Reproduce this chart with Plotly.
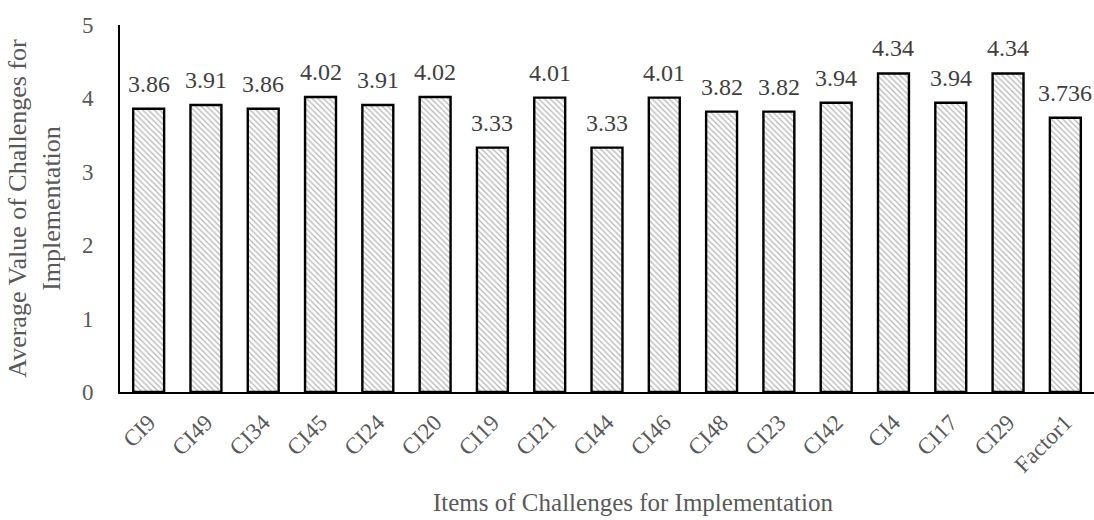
import plotly.graph_objects as go

# Challenge items and their mean scores
items = ["CI9", "CI49", "CI34", "CI45", "CI24", "CI20", "CI19", "CI21", "CI44",
         "CI46", "CI48", "CI23", "CI42", "CI4", "CI17", "CI29", "Factor1"]
means = [3.86, 3.91, 3.86, 4.02, 3.91, 4.02, 3.33, 4.01, 3.33,
         4.01, 3.82, 3.82, 3.94, 4.34, 3.94, 4.34, 3.736]
labels = ["3.86", "3.91", "3.86", "4.02", "3.91", "4.02", "3.33", "4.01", "3.33",
          "4.01", "3.82", "3.82", "3.94", "4.34", "3.94", "4.34", "3.736"]

FONT = "Liberation Serif, Times New Roman, serif"
GREY = "#595959"

fig = go.Figure(go.Bar(
    x=items,
    y=means,
    width=0.54,
    marker=dict(
        color="white",
        line=dict(color="black", width=2.4),
        pattern=dict(shape="\\", fgcolor="#6a6a6a", bgcolor="white",
                     size=4, solidity=0.3),
    ),
))

# value labels above each bar
for name, val, txt in zip(items, means, labels):
    fig.add_annotation(x=name, y=val, text=txt, showarrow=False,
                       yanchor="bottom", yshift=10,
                       font=dict(family=FONT, size=24, color="#404040"))

# x-axis title
fig.add_annotation(xref="paper", yref="paper", x=0.527, y=-0.30,
                   text="Items of Challenges for Implementation",
                   showarrow=False, xanchor="center", yanchor="middle",
                   font=dict(family=FONT, size=25, color=GREY))

fig.update_layout(
    width=1094, height=520,
    margin=dict(l=120, r=0, t=25, b=128),
    plot_bgcolor="white", paper_bgcolor="white",
    showlegend=False,
    font=dict(family=FONT, color=GREY),
    xaxis=dict(
        showline=True, linecolor="black", linewidth=2,
        tickangle=-45, tickfont=dict(size=23, color=GREY),
        ticks="", range=[-0.5, 16.5],
        ticklabelstandoff=6,
    ),
    yaxis=dict(
        range=[0, 5], dtick=1, showgrid=False,
        showline=True, linecolor="black", linewidth=2,
        ticks="", tickfont=dict(size=23, color=GREY),
        ticklabelstandoff=20,
        zeroline=False,
        title=dict(text="Average Value of Challenges for<br>Implementation",
                   font=dict(size=26, color=GREY), standoff=14),
    ),
)

fig.write_html("out.html")
